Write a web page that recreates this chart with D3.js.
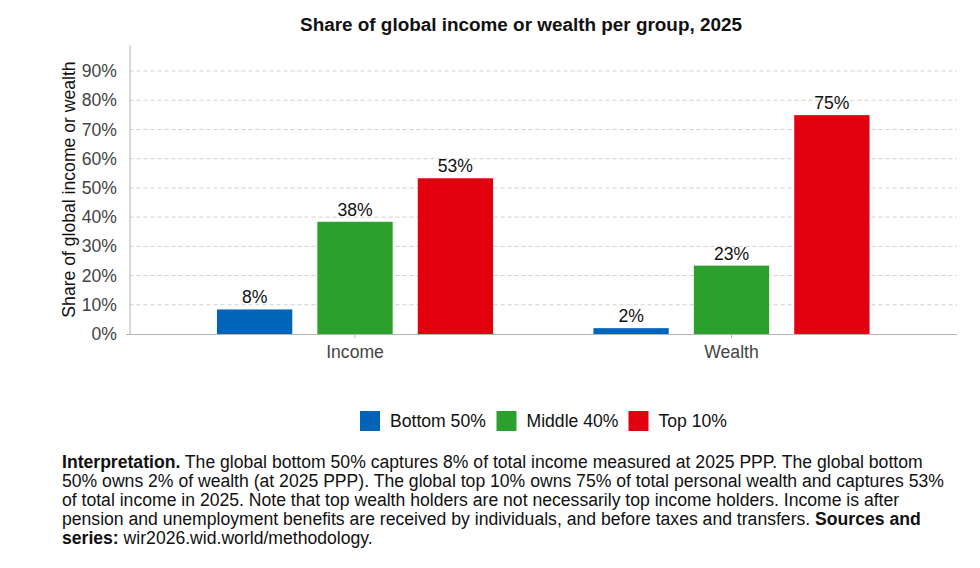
<!DOCTYPE html>
<html>
<head>
<meta charset="utf-8">
<script src="https://cdn.jsdelivr.net/npm/d3@7"></script>
<style>
  body { margin: 0; background: #fff; }
  svg { font-family: "Liberation Sans", Arial, sans-serif; }
</style>
</head>
<body>
<svg id="chart" width="980" height="568"></svg>
<script>
const categories = ["Income", "Wealth"];
const groups = ["Bottom 50%", "Middle 40%", "Top 10%"];
const colors = ["#0065b8", "#2ca02c", "#e3000f"];
const incomeValues = [8.4, 38.4, 53.3];
const wealthValues = [2.0, 23.4, 74.9];
const yTicks = [0, 10, 20, 30, 40, 50, 60, 70, 80, 90];

const footLines = [
  [["b", "Interpretation."], ["", " The global bottom 50% captures 8% of total income measured at 2025 PPP. The global bottom"]],
  [["", "50% owns 2% of wealth (at 2025 PPP). The global top 10% owns 75% of total personal wealth and captures 53%"]],
  [["", "of total income in 2025. Note that top wealth holders are not necessarily top income holders. Income is after"]],
  [["", "pension and unemployment benefits are received by individuals, and before taxes and transfers. "], ["b", "Sources and"]],
  [["b", "series:"], ["", " wir2026.wid.world/methodology."]]
];

const data = categories.map((c, i) => ({
  cat: c,
  values: (i === 0 ? incomeValues : wealthValues).map((v, j) => ({ group: groups[j], v }))
}));

const fs = 17.6;
const svg = d3.select("#chart");
const margin = { left: 129.5, right: 23, top: 45, bottom: 234 };
const plotW = 980 - margin.left - margin.right;
const plotH = 568 - margin.top - margin.bottom;

const g = svg.append("g").attr("transform", `translate(${margin.left},${margin.top})`);

const x0 = d3.scaleBand().domain(categories).range([0, plotW]).paddingInner(0).paddingOuter(0.099);
const x1 = d3.scaleBand().domain(groups).range([-150.6, 150.6]).paddingInner(0.25).paddingOuter(0.125);
const y = d3.scaleLinear().domain([0, 98.9]).range([plotH, 0]);
const color = d3.scaleOrdinal().domain(groups).range(colors);

// gridlines
g.append("g")
  .selectAll("line")
  .data(yTicks.filter(t => t > 0))
  .join("line")
  .attr("x1", 0).attr("x2", plotW)
  .attr("y1", d => y(d)).attr("y2", d => y(d))
  .attr("stroke", "#d0d0d0")
  .attr("stroke-dasharray", "4,3");

// y axis
const yAxis = g.append("g")
  .call(d3.axisLeft(y).tickValues(yTicks).tickSize(0).tickPadding(12.5).tickFormat(d => d + "%"));
yAxis.select(".domain").attr("stroke", "#b5b5b5");
yAxis.selectAll("text").attr("font-size", fs).attr("fill", "#444");

// x axis
const xAxis = g.append("g")
  .attr("transform", `translate(0,${plotH})`)
  .call(d3.axisBottom(x0).tickSize(4).tickPadding(8).tickSizeOuter(0));
xAxis.select(".domain").attr("stroke", "#b5b5b5").attr("d", `M-3.5,0.5H${plotW}`);
xAxis.selectAll(".tick line").attr("stroke", "#b5b5b5");
xAxis.selectAll("text").attr("font-size", fs).attr("fill", "#444");

// bars
const grp = g.selectAll(".grp")
  .data(data)
  .join("g")
  .attr("transform", d => `translate(${x0(d.cat) + x0.bandwidth() / 2},0)`);

grp.selectAll("rect")
  .data(d => d.values)
  .join("rect")
  .attr("x", d => x1(d.group))
  .attr("width", x1.bandwidth())
  .attr("y", d => y(d.v))
  .attr("height", d => y(0) - y(d.v))
  .attr("fill", d => color(d.group));

grp.selectAll("text")
  .data(d => d.values)
  .join("text")
  .attr("x", d => x1(d.group) + x1.bandwidth() / 2)
  .attr("y", d => y(d.v) - 6)
  .attr("text-anchor", "middle")
  .attr("font-size", fs)
  .attr("fill", "#111")
  .text(d => Math.round(d.v) + "%");

// y title
svg.append("text")
  .attr("transform", `translate(75,${margin.top + plotH / 2}) rotate(-90)`)
  .attr("text-anchor", "middle")
  .attr("font-size", fs)
  .attr("fill", "#111")
  .text("Share of global income or wealth");

// title
svg.append("text")
  .attr("x", 521).attr("y", 31)
  .attr("text-anchor", "middle")
  .attr("font-size", 18.9)
  .attr("font-weight", "bold")
  .attr("fill", "#111")
  .text("Share of global income or wealth per group, 2025");

// legend
const legendX = [360, 496.5, 628.5];
const legend = svg.append("g").selectAll("g")
  .data(groups)
  .join("g")
  .attr("transform", (d, i) => `translate(${legendX[i]},411)`);
legend.append("rect").attr("width", 20).attr("height", 20).attr("fill", d => color(d));
legend.append("text").attr("x", 30).attr("y", 16.3).attr("font-size", fs).attr("fill", "#111").text(d => d);

// footnote
const foot = svg.append("text").attr("font-size", fs).attr("fill", "#111");
footLines.forEach((line, i) => {
  line.forEach((seg, k) => {
    const t = foot.append("tspan").attr("font-weight", seg[0] === "b" ? "bold" : null).text(seg[1]);
    if (k === 0) t.attr("x", 62).attr("y", 468.3 + i * 19);
  });
});
</script>
</body>
</html>
